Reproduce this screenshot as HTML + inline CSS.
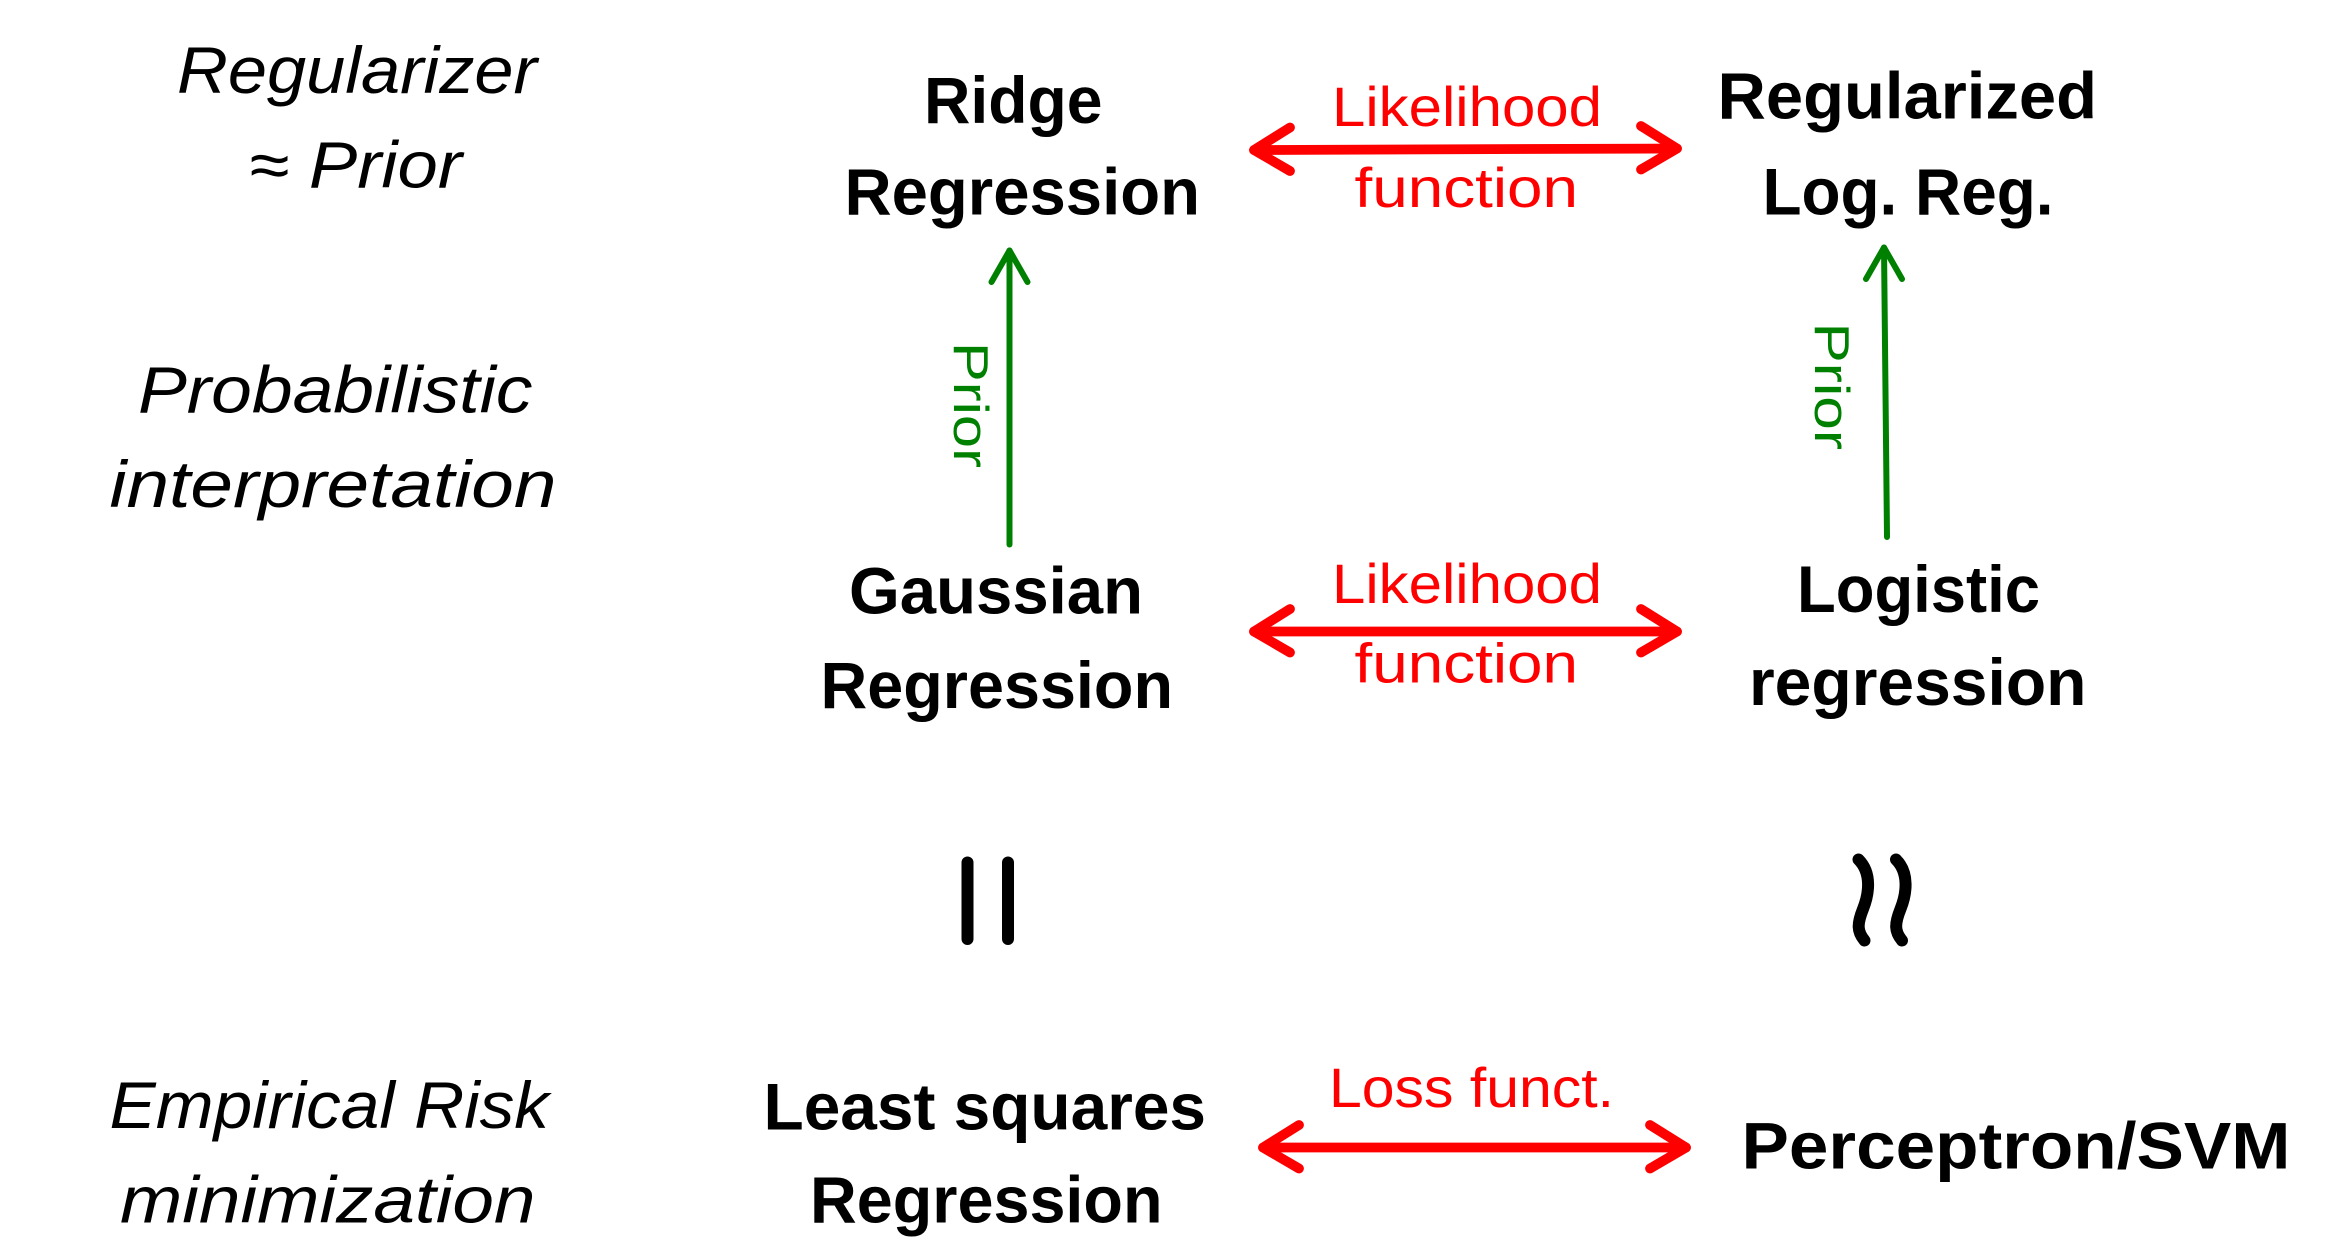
<!DOCTYPE html>
<html><head><meta charset="utf-8"><style>
html,body{margin:0;padding:0;background:#fff;}
svg{display:block;}
.it{font-family:"Liberation Sans",sans-serif;font-style:italic;font-size:44px;fill:#000;}
.b{font-family:"Liberation Sans",sans-serif;font-weight:bold;font-size:44px;fill:#000;}
.r{font-family:"Liberation Sans",sans-serif;font-size:37px;fill:#f00;}
.g{font-family:"Liberation Sans",sans-serif;font-size:33px;fill:#008000;}
</style></head><body>
<svg width="2336" height="1244" viewBox="0 0 1557.33 829.33" preserveAspectRatio="none" xmlns="http://www.w3.org/2000/svg">
<rect width="1557.33" height="829.33" fill="#fff"/>
<text class="it" x="118" y="62" textLength="240" lengthAdjust="spacingAndGlyphs">Regularizer</text>
<text class="it" x="166" y="125" textLength="142" lengthAdjust="spacingAndGlyphs">≈ Prior</text>
<text class="it" x="92" y="275" textLength="263" lengthAdjust="spacingAndGlyphs">Probabilistic</text>
<text class="it" x="73" y="338" textLength="298" lengthAdjust="spacingAndGlyphs">interpretation</text>
<text class="it" x="73" y="752" textLength="293" lengthAdjust="spacingAndGlyphs">Empirical Risk</text>
<text class="it" x="80" y="815" textLength="277" lengthAdjust="spacingAndGlyphs">minimization</text>
<text class="b" x="616" y="82" textLength="119" lengthAdjust="spacingAndGlyphs">Ridge</text>
<text class="b" x="563" y="143" textLength="237" lengthAdjust="spacingAndGlyphs">Regression</text>
<text class="b" x="1145" y="79" textLength="253" lengthAdjust="spacingAndGlyphs">Regularized</text>
<text class="b" x="1175" y="143" textLength="194" lengthAdjust="spacingAndGlyphs">Log. Reg.</text>
<text class="b" x="566" y="409" textLength="196" lengthAdjust="spacingAndGlyphs">Gaussian</text>
<text class="b" x="547" y="472" textLength="235" lengthAdjust="spacingAndGlyphs">Regression</text>
<text class="b" x="1198" y="408" textLength="162" lengthAdjust="spacingAndGlyphs">Logistic</text>
<text class="b" x="1166" y="470" textLength="225" lengthAdjust="spacingAndGlyphs">regression</text>
<text class="b" x="509" y="753" textLength="295" lengthAdjust="spacingAndGlyphs">Least squares</text>
<text class="b" x="540" y="815" textLength="235" lengthAdjust="spacingAndGlyphs">Regression</text>
<text class="b" x="1161" y="779" textLength="366" lengthAdjust="spacingAndGlyphs">Perceptron/SVM</text>
<text class="r" x="888" y="84" textLength="180" lengthAdjust="spacingAndGlyphs">Likelihood</text>
<text class="r" x="903" y="138" textLength="149" lengthAdjust="spacingAndGlyphs">function</text>
<text class="r" x="888" y="402" textLength="180" lengthAdjust="spacingAndGlyphs">Likelihood</text>
<text class="r" x="903" y="455" textLength="149" lengthAdjust="spacingAndGlyphs">function</text>
<text class="r" x="886" y="738" textLength="190" lengthAdjust="spacingAndGlyphs">Loss funct.</text>
<g stroke="#f00" stroke-width="6.5" fill="none" stroke-linecap="round" stroke-linejoin="round">
<line x1="836" y1="100" x2="1118" y2="99"/>
<polyline points="860,85 836,100 860,114"/>
<polyline points="1094,84 1118,99 1094,113"/>
<line x1="836" y1="421" x2="1118" y2="421"/>
<polyline points="860,406 836,421 860,435"/>
<polyline points="1094,406 1118,421 1094,435"/>
<line x1="842" y1="765" x2="1124" y2="765"/>
<polyline points="866,750 842,765 866,779"/>
<polyline points="1100,750 1124,765 1100,779"/>
</g>
<g stroke="#008000" stroke-width="4" fill="none" stroke-linecap="round" stroke-linejoin="round">
<line x1="673" y1="363" x2="673" y2="167"/>
<polyline points="661,188 673,167 685,188"/>
<line x1="1258" y1="358" x2="1256" y2="165"/>
<polyline points="1244,186 1256,165 1268,186"/>
</g>
<text class="g" transform="translate(636,228) rotate(90)" textLength="84" lengthAdjust="spacingAndGlyphs">Prior</text>
<text class="g" transform="translate(1210,215) rotate(90)" textLength="85" lengthAdjust="spacingAndGlyphs">Prior</text>
<g stroke="#000" stroke-width="8" stroke-linecap="round" fill="none">
<line x1="645" y1="575" x2="645" y2="626"/>
<line x1="672" y1="575" x2="672" y2="626"/>
<path d="M1239,573 C1248,582 1246,596 1242,606 C1238,616 1238,621 1243,627"/>
<path d="M1264,573 C1273,582 1271,596 1267,606 C1263,616 1263,621 1268,627"/>
</g>
</svg>
</body></html>
